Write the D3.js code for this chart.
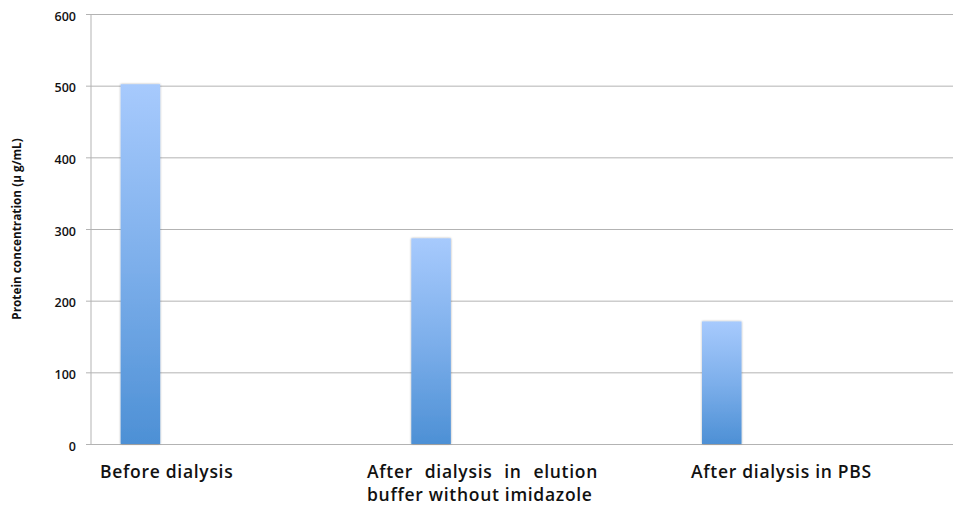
<!DOCTYPE html>
<html>
<head>
<meta charset="utf-8">
<script src="https://cdn.jsdelivr.net/npm/d3@7"></script>
<style>
  html, body { margin: 0; padding: 0; background: #fff; }
  svg { display: block; }
  text { font-family: "Open Sans", sans-serif; fill: #111; }
</style>
</head>
<body>
<svg id="chart" width="953" height="507"></svg>
<script>
// Protein concentration measured before and after dialysis
const categories = ["Before dialysis", "After dialysis in elution buffer without imidazole", "After dialysis in PBS"];
const labelLines = [["Before dialysis"], ["After dialysis in elution", "buffer without imidazole"], ["After dialysis in PBS"]];
const values = [502, 287, 171];
const yTicks = [0, 100, 200, 300, 400, 500, 600];
const yTitle = "Protein concentration (\u00b5 g/mL)";

const svg = d3.select("#chart");
const plot = { left: 91, top: 14, bottom: 444, right: 963 };

const y = d3.scaleLinear().domain([0, 600]).range([plot.bottom, plot.top]);
const x = d3.scaleBand().domain(categories).range([plot.left, plot.right]).paddingInner(0).paddingOuter(0);
const step = x.step();
const barOffset = step * 0.102;
const barWidth = step * 0.136;

// vertical gradient used by every bar
const defs = svg.append("defs");
const grad = defs.append("linearGradient").attr("id", "barGrad")
  .attr("x1", 0).attr("y1", 0).attr("x2", 0).attr("y2", 1);
grad.append("stop").attr("offset", "0%").attr("stop-color", "#a7cafd");
grad.append("stop").attr("offset", "50%").attr("stop-color", "#7dafeb");
grad.append("stop").attr("offset", "100%").attr("stop-color", "#4d90d5");
const shadow = defs.append("filter").attr("id", "soft").attr("x", "-20%").attr("y", "-5%").attr("width", "140%").attr("height", "110%");
shadow.append("feGaussianBlur").attr("in", "SourceAlpha").attr("stdDeviation", 1.2).attr("result", "b");
shadow.append("feComponentTransfer").attr("in", "b").attr("result", "s")
  .append("feFuncA").attr("type", "linear").attr("slope", 0.35);
const merge = shadow.append("feMerge");
merge.append("feMergeNode").attr("in", "s");
merge.append("feMergeNode").attr("in", "SourceGraphic");

// horizontal gridlines with small tick stubs left of the axis
const yAxis = d3.axisLeft(y).tickValues(yTicks).tickSize(-(plot.right - plot.left)).tickPadding(15)
  .tickFormat(d3.format("d"));
const gy = svg.append("g").attr("transform", `translate(${plot.left},0)`).call(yAxis);
gy.select(".domain").remove();
gy.selectAll(".tick line").attr("stroke", "#b3b3b3").attr("stroke-width", 1)
  .attr("x1", -5);
gy.selectAll(".tick text").attr("font-size", 12.5).attr("fill", "#111").attr("dy", "0.5em")
  .attr("font-family", "'Open Sans', sans-serif").attr("font-weight", 600);

// left axis line
svg.append("line")
  .attr("x1", plot.left).attr("x2", plot.left)
  .attr("y1", y(600)).attr("y2", y(0))
  .attr("stroke", "#b3b3b3").attr("stroke-width", 1);

// bars
svg.append("g").selectAll("rect").data(values).join("rect")
  .attr("x", (d, i) => x(categories[i]) + barOffset)
  .attr("y", d => y(d))
  .attr("width", barWidth)
  .attr("height", d => y(0) - y(d))
  .attr("fill", "url(#barGrad)")
  .attr("filter", "url(#soft)");

// category labels; the wrapped first line is justified to the label box width
const labelX = [100, 367, 691];
const justifyWidth = [null, 231, null];
const lbl = svg.append("g").selectAll("text").data(labelLines).join("text")
  .attr("x", (d, i) => labelX[i])
  .attr("y", 478)
  .attr("font-size", 17.5)
  .attr("letter-spacing", 0.7)
  .attr("font-weight", 600);
lbl.each(function (lines, i) {
  const t = d3.select(this);
  lines.forEach((line, j) => {
    const ts = t.append("tspan").attr("x", labelX[i]).attr("dy", j === 0 ? 0 : 23).text(line);
    if (j === 0 && justifyWidth[i] && lines.length > 1) {
      const w = ts.node().getComputedTextLength();
      const gaps = line.split(" ").length - 1;
      ts.attr("word-spacing", Math.max(0, (justifyWidth[i] - w) / gaps));
    }
  });
});

// y-axis title
svg.append("text")
  .attr("transform", `translate(21,${(plot.top + plot.bottom) / 2}) rotate(-90)`)
  .attr("text-anchor", "middle")
  .attr("font-size", 11.8)
  .attr("font-weight", "bold")
  .text(yTitle);
</script>
</body>
</html>
